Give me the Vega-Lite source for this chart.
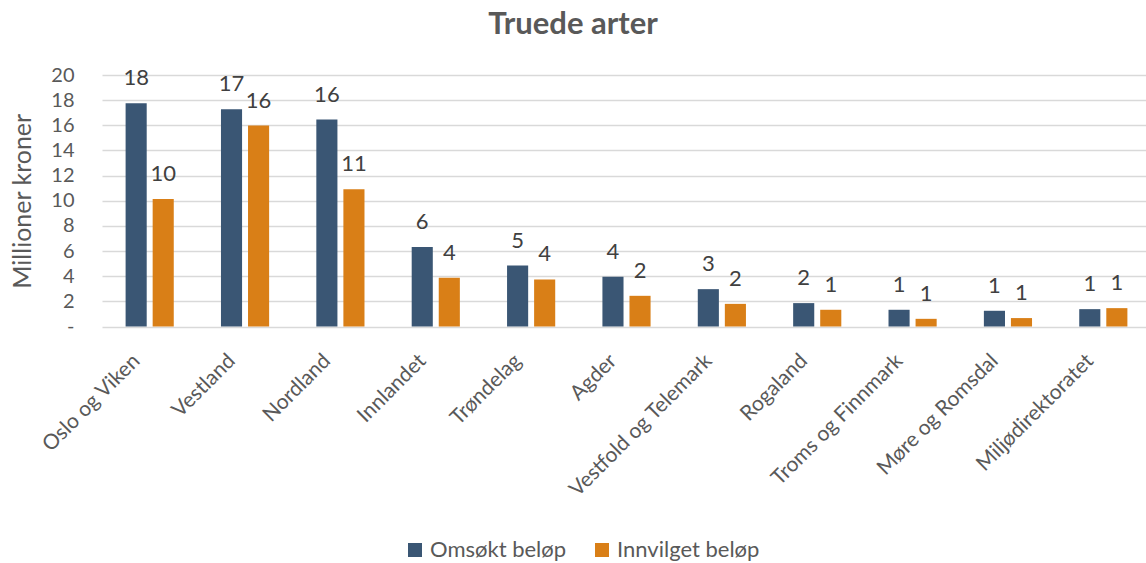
{
  "$schema": "https://vega.github.io/schema/vega-lite/v6.json",
  "width": 1044,
  "height": 251.5,
  "autosize": {"type": "none"},
  "padding": {"left": 102, "top": 75, "right": 0, "bottom": 236.5},
  "background": "white",
  "config": {"font": "Lato", "view": {"stroke": null}},
  "title": {"text": "Truede arter", "fontSize": 31, "fontWeight": "bold", "color": "#595959", "anchor": "middle", "frame": "group", "dx": -51, "offset": 0, "baseline": "alphabetic"},
  "data": {"values": [
    {"region": "Oslo og Viken", "serie": "Omsøkt beløp", "verdi": 17.76},
    {"region": "Oslo og Viken", "serie": "Innvilget beløp", "verdi": 10.13},
    {"region": "Vestland", "serie": "Omsøkt beløp", "verdi": 17.28},
    {"region": "Vestland", "serie": "Innvilget beløp", "verdi": 15.98},
    {"region": "Nordland", "serie": "Omsøkt beløp", "verdi": 16.46},
    {"region": "Nordland", "serie": "Innvilget beløp", "verdi": 10.92},
    {"region": "Innlandet", "serie": "Omsøkt beløp", "verdi": 6.32},
    {"region": "Innlandet", "serie": "Innvilget beløp", "verdi": 3.87},
    {"region": "Trøndelag", "serie": "Omsøkt beløp", "verdi": 4.85},
    {"region": "Trøndelag", "serie": "Innvilget beløp", "verdi": 3.74},
    {"region": "Agder", "serie": "Omsøkt beløp", "verdi": 3.95},
    {"region": "Agder", "serie": "Innvilget beløp", "verdi": 2.44},
    {"region": "Vestfold og Telemark", "serie": "Omsøkt beløp", "verdi": 2.97},
    {"region": "Vestfold og Telemark", "serie": "Innvilget beløp", "verdi": 1.8},
    {"region": "Rogaland", "serie": "Omsøkt beløp", "verdi": 1.86},
    {"region": "Rogaland", "serie": "Innvilget beløp", "verdi": 1.33},
    {"region": "Troms og Finnmark", "serie": "Omsøkt beløp", "verdi": 1.33},
    {"region": "Troms og Finnmark", "serie": "Innvilget beløp", "verdi": 0.61},
    {"region": "Møre og Romsdal", "serie": "Omsøkt beløp", "verdi": 1.25},
    {"region": "Møre og Romsdal", "serie": "Innvilget beløp", "verdi": 0.67},
    {"region": "Miljødirektoratet", "serie": "Omsøkt beløp", "verdi": 1.38},
    {"region": "Miljødirektoratet", "serie": "Innvilget beløp", "verdi": 1.46}
  ]},
  "encoding": {
    "x": {"field": "region", "type": "nominal", "sort": null,
      "scale": {"range": [0, 1049], "paddingInner": 0.495, "paddingOuter": 0.2475},
      "axis": {"title": null, "labelAngle": -45, "labelAlign": "right", "labelBaseline": "middle", "labelOffset": -13, "labelPadding": 31, "labelFontSize": 21, "labelColor": "#595959", "labelLimit": 400, "ticks": false, "tickSize": 0, "domain": false, "grid": false, "labelOverlap": false}},
    "xOffset": {"field": "serie", "type": "nominal", "sort": ["Omsøkt beløp", "Innvilget beløp"], "scale": {"paddingInner": 0.22, "paddingOuter": 0}},
    "y": {"field": "verdi", "type": "quantitative", "scale": {"domain": [0, 20], "nice": false},
      "axis": {"title": "Millioner kroner", "titleFontSize": 25, "titleFontWeight": "normal", "titleColor": "#595959", "titlePadding": 15,
        "values": [0, 2, 4, 6, 8, 10, 12, 14, 16, 18, 20],
        "labelExpr": "datum.value == 0 ? '-\u00a0\u00a0\u00a0\u00a0' : datum.label",
        "labelFontSize": 20, "labelColor": "#595959", "labelPadding": 28, "ticks": false, "domain": false,
        "grid": true, "gridColor": "#D9D9D9", "gridWidth": 1.5}}
  },
  "layer": [
    {"mark": {"type": "bar"},
     "encoding": {"color": {"field": "serie", "type": "nominal", "sort": ["Omsøkt beløp", "Innvilget beløp"],
       "scale": {"domain": ["Omsøkt beløp", "Innvilget beløp"], "range": ["#3A5674", "#D97F17"]},
       "legend": {"title": null, "orient": "none", "legendX": 302, "legendY": 464, "direction": "horizontal", "symbolType": "square", "symbolSize": 196, "symbolStrokeWidth": 0, "labelFontSize": 22, "labelColor": "#595959", "columnPadding": 24, "labelOffset": 4}}}},
    {"mark": {"type": "text", "baseline": "alphabetic", "dy": -18, "fontSize": 22, "color": "#404040"},
     "encoding": {"text": {"field": "verdi", "type": "quantitative", "format": ".0f"}}}
  ]
}
